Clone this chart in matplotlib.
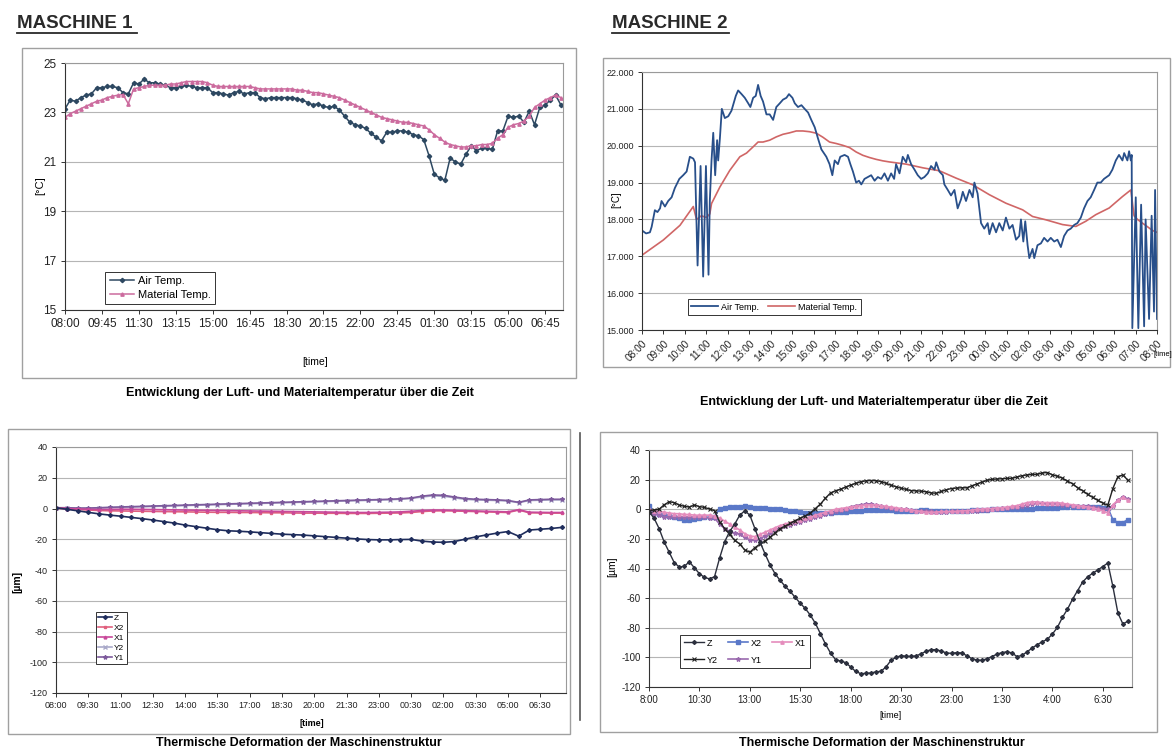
import numpy as np
import matplotlib.pyplot as plt
from matplotlib.patches import Rectangle
from matplotlib.lines import Line2D
from matplotlib.ticker import FormatStrFormatter

plt.rcParams['font.family'] = ['Liberation Sans', 'DejaVu Sans']
plt.rcParams['axes.unicode_minus'] = False

W, H = 1172, 751

# ---------------- Maschine 1: temperatures, one reading every 15 min from 08:00 ----------------
m1_ticks = ["08:00", "09:45", "11:30", "13:15", "15:00", "16:45", "18:30",
            "20:15", "22:00", "23:45", "01:30", "03:15", "05:00", "06:45"]
m1_air = [23.15, 23.5, 23.45, 23.6, 23.7, 23.75, 24.0, 24.0, 24.05, 24.05,
          24.0, 23.8, 23.75, 24.2, 24.15, 24.35, 24.2, 24.2, 24.15, 24.1,
          24.0, 24.0, 24.05, 24.1, 24.05, 24.0, 24.0, 24.0, 23.8, 23.8,
          23.75, 23.7, 23.8, 23.85, 23.75, 23.8, 23.8, 23.6, 23.55, 23.6,
          23.6, 23.6, 23.6, 23.6, 23.55, 23.5, 23.4, 23.3, 23.35, 23.25,
          23.2, 23.25, 23.1, 22.85, 22.6, 22.5, 22.45, 22.35, 22.15, 22.0,
          21.85, 22.2, 22.2, 22.25, 22.25, 22.2, 22.1, 22.05, 21.9, 21.25,
          20.5, 20.35, 20.25, 21.15, 21.0, 20.9, 21.3, 21.65, 21.45, 21.55,
          21.55, 21.5, 22.25, 22.25, 22.85, 22.8, 22.85, 22.6, 23.05, 22.5,
          23.2, 23.3, 23.5, 23.7, 23.3]
m1_mat = [22.8, 22.95, 23.05, 23.15, 23.25, 23.35, 23.45, 23.5, 23.6, 23.65,
          23.7, 23.72, 23.35, 23.95, 24.0, 24.05, 24.1, 24.1, 24.1, 24.1,
          24.15, 24.15, 24.2, 24.25, 24.25, 24.25, 24.25, 24.2, 24.1, 24.05,
          24.05, 24.05, 24.05, 24.05, 24.05, 24.05, 24.0, 23.95, 23.95, 23.95,
          23.95, 23.95, 23.95, 23.95, 23.9, 23.9, 23.85, 23.8, 23.8, 23.75,
          23.7, 23.65, 23.6, 23.5, 23.4, 23.3, 23.2, 23.1, 23.0, 22.9,
          22.8, 22.75, 22.7, 22.65, 22.6, 22.6, 22.55, 22.5, 22.45, 22.3,
          22.1, 21.95, 21.8, 21.7, 21.65, 21.6, 21.6, 21.65, 21.65, 21.7,
          21.7, 21.75, 21.95, 22.1, 22.4, 22.5, 22.55, 22.65, 22.85, 23.2,
          23.35, 23.5, 23.6, 23.7, 23.6]

# ---------------- Maschine 2: temperatures (hours after 08:00, value) ----------------
m2_ticks = ["08:00", "09:00", "10:00", "11:00", "12:00", "13:00", "14:00", "15:00",
            "16:00", "17:00", "18:00", "19:00", "20:00", "21:00", "22:00", "23:00",
            "00:00", "01:00", "02:00", "03:00", "04:00", "05:00", "06:00", "07:00", "08:00"]
m2_air_h = [0.0, 0.19, 0.37, 0.45, 0.60, 0.72, 0.84, 0.91, 1.07, 1.22,
            1.38, 1.53, 1.74, 1.92, 2.08, 2.23, 2.39, 2.47, 2.59, 2.73,
            2.85, 2.98, 3.10, 3.16, 3.24, 3.32, 3.41, 3.50, 3.55, 3.63,
            3.72, 3.86, 4.02, 4.17, 4.37, 4.48, 4.64, 4.79, 4.95, 5.05,
            5.18, 5.30, 5.41, 5.53, 5.64, 5.80, 5.95, 6.11, 6.26, 6.42,
            6.57, 6.73, 6.85, 7.01, 7.12, 7.27, 7.43, 7.58, 7.74, 7.89,
            8.05, 8.20, 8.36, 8.59, 8.74, 8.87, 8.98, 9.13, 9.24, 9.44,
            9.60, 9.71, 9.83, 9.98, 10.11, 10.22, 10.37, 10.53, 10.68, 10.84,
            10.99, 11.15, 11.30, 11.46, 11.61, 11.75, 11.84, 12.0, 12.15, 12.31,
            12.39, 12.54, 12.70, 12.85, 13.01, 13.16, 13.32, 13.47, 13.63, 13.71,
            13.86, 14.02, 14.09, 14.25, 14.40, 14.56, 14.71, 14.87, 14.95, 15.10,
            15.26, 15.41, 15.49, 15.64, 15.72, 15.80, 15.95, 16.11, 16.19, 16.34,
            16.50, 16.65, 16.81, 16.96, 17.12, 17.27, 17.43, 17.58, 17.66, 17.77,
            17.86, 17.97, 18.05, 18.20, 18.28, 18.43, 18.59, 18.74, 18.90, 19.05,
            19.21, 19.36, 19.52, 19.67, 19.83, 19.98, 20.14, 20.29, 20.45, 20.60,
            20.76, 20.91, 21.07, 21.22, 21.38, 21.53, 21.77, 21.92, 22.08, 22.23,
            22.39, 22.47, 22.62, 22.70, 22.78, 22.82, 22.85, 23.01, 23.13, 23.26,
            23.40, 23.47, 23.63, 23.75, 23.86, 23.91, 24.0]
m2_air = [17.7, 17.62, 17.65, 17.8, 18.25, 18.2, 18.3, 18.5, 18.35, 18.5,
          18.6, 18.85, 19.1, 19.2, 19.3, 19.7, 19.65, 19.55, 16.75, 19.45,
          16.45, 19.45, 16.5, 18.5, 19.6, 20.35, 19.2, 20.15, 19.6, 20.2,
          21.0, 20.75, 20.8, 20.95, 21.35, 21.5, 21.4, 21.3, 21.15, 21.05,
          21.3, 21.35, 21.65, 21.35, 21.2, 20.85, 20.85, 20.7, 21.05, 21.15,
          21.25, 21.3, 21.4, 21.3, 21.15, 21.05, 21.1, 21.0, 20.9, 20.7,
          20.5, 20.2, 19.9, 19.7, 19.5, 19.2, 19.6, 19.5, 19.7, 19.75,
          19.7, 19.5, 19.3, 19.0, 19.05, 18.95, 19.1, 19.15, 19.2, 19.05,
          19.15, 19.1, 19.25, 19.05, 19.25, 19.1, 19.5, 19.25, 19.7, 19.55,
          19.75, 19.5, 19.35, 19.2, 19.1, 19.15, 19.25, 19.45, 19.35, 19.55,
          19.3, 19.2, 18.95, 18.8, 18.65, 18.8, 18.3, 18.55, 18.75, 18.5,
          18.8, 18.6, 19.0, 18.7, 18.3, 17.9, 17.75, 17.9, 17.6, 17.9,
          17.65, 17.9, 17.7, 18.05, 17.75, 17.85, 17.45, 17.55, 18.0, 17.4,
          17.95, 17.3, 16.95, 17.2, 16.95, 17.3, 17.35, 17.5, 17.4, 17.5,
          17.4, 17.45, 17.25, 17.55, 17.7, 17.75, 17.85, 17.9, 18.05, 18.3,
          18.5, 18.6, 18.8, 19.0, 19.0, 19.1, 19.2, 19.35, 19.6, 19.75,
          19.6, 19.8, 19.6, 19.85, 19.6, 19.75, 15.05, 18.6, 15.05, 18.4,
          15.1, 18.0, 15.3, 18.1, 15.5, 18.8, 15.3]
m2_mat_h = [0.0, 0.99, 1.77, 2.39, 2.54, 2.77, 3.0, 3.16, 3.24, 3.63,
            4.09, 4.56, 4.87, 5.18, 5.41, 5.64, 5.95, 6.26, 6.57, 6.88,
            7.19, 7.5, 7.81, 8.12, 8.43, 8.74, 9.05, 9.36, 9.67, 9.98,
            10.29, 10.60, 10.91, 11.22, 11.53, 12.31, 13.09, 13.86, 14.64, 15.41,
            16.19, 16.96, 17.74, 18.2, 18.82, 19.6, 20.22, 20.68, 21.15, 21.77,
            22.39, 22.78, 22.93, 23.09, 23.32, 23.56, 23.79, 24.0]
m2_mat = [17.03, 17.44, 17.84, 18.35, 18.0, 18.1, 18.05, 18.15, 18.43, 18.88,
          19.33, 19.7, 19.8, 19.97, 20.1, 20.1, 20.15, 20.24, 20.31, 20.35,
          20.4, 20.4, 20.38, 20.34, 20.23, 20.1, 20.06, 20.01, 19.95, 19.83,
          19.74, 19.68, 19.63, 19.59, 19.56, 19.5, 19.4, 19.32, 19.12, 18.94,
          18.67, 18.44, 18.26, 18.08, 17.99, 17.86, 17.81, 17.95, 18.13, 18.31,
          18.62, 18.8, 18.1, 18.0, 17.9, 17.8, 17.7, 17.65]

# ---------------- Maschine 1: deformation, one reading every 30 min ----------------
m3_ticks = ["08:00", "09:30", "11:00", "12:30", "14:00", "15:30", "17:00", "18:30",
            "20:00", "21:30", "23:00", "00:30", "02:00", "03:30", "05:00", "06:30"]
m3_z = [0.5, -0.5, -1.5, -2.5, -3.5, -4.3, -5, -5.8, -6.6, -7.5,
        -8.5, -9.5, -10.8, -11.8, -12.8, -13.8, -14.5, -14.8, -15.2, -15.7,
        -16.2, -16.7, -17, -17.3, -17.8, -18.3, -18.8, -19.3, -19.8, -20.2,
        -20.4, -20.4, -20.2, -20.1, -21.2, -21.8, -22, -21.5, -20, -18.5,
        -17.2, -16, -15, -18, -14, -13.5, -13, -12.3]
m3_x2 = [0.3, -0.2, -0.6, -1.0, -1.3, -1.5, -1.6, -1.7, -1.8, -1.9,
         -2.0, -2.1, -2.2, -2.3, -2.4, -2.5, -2.5, -2.6, -2.6, -2.7,
         -2.8, -2.8, -2.9, -3.0, -3.0, -3.1, -3.1, -3.2, -3.2, -3.2,
         -3.1, -3.0, -2.9, -2.6, -2.0, -1.6, -1.5, -1.6, -1.8, -2.0,
         -2.2, -2.4, -2.6, -1.0, -2.8, -2.9, -3.0, -3.0]
m3_x1 = [0.3, 0.0, -0.3, -0.5, -0.7, -0.6, -0.5, -0.5, -0.6, -0.7,
         -0.8, -0.9, -1.0, -1.1, -1.2, -1.3, -1.4, -1.5, -1.6, -1.7,
         -1.8, -1.9, -2.0, -2.1, -2.2, -2.3, -2.4, -2.5, -2.6, -2.6,
         -2.5, -2.4, -2.2, -1.8, -1.3, -1.0, -1.0, -1.2, -1.4, -1.6,
         -1.8, -2.0, -2.2, -0.8, -2.4, -2.5, -2.6, -2.6]
m3_y2 = [0.3, 0.2, 0.0, 0.0, 0.2, 0.5, 0.7, 0.9, 1.1, 1.3,
         1.5, 1.7, 1.9, 2.1, 2.3, 2.5, 2.7, 2.9, 3.1, 3.3,
         3.5, 3.7, 3.9, 4.1, 4.3, 4.5, 4.7, 4.9, 5.1, 5.3,
         5.5, 5.7, 6.0, 6.5, 7.5, 8.2, 8.0, 7.0, 6.0, 5.6,
         5.4, 5.2, 4.9, 3.8, 5.2, 5.4, 5.6, 5.6]
m3_y1 = [0.5, 0.5, 0.3, 0.3, 0.5, 0.8, 1.0, 1.2, 1.4, 1.6,
         1.8, 2.0, 2.2, 2.4, 2.6, 2.8, 3.0, 3.2, 3.4, 3.6,
         3.8, 4.0, 4.2, 4.4, 4.6, 4.8, 5.0, 5.2, 5.4, 5.6,
         5.8, 6.0, 6.3, 6.8, 8.0, 8.8, 8.6, 7.5, 6.5, 6.0,
         5.8, 5.6, 5.2, 4.0, 5.6, 5.8, 6.0, 6.0]

# ---------------- Maschine 2: deformation, one reading every 15 min ----------------
m4_ticks = ["8:00", "10:30", "13:00", "15:30", "18:00", "20:30", "23:00", "1:30", "4:00", "6:30"]
m4_z = [-1.7, -6, -13, -22, -29, -36, -39, -38.5, -35.5, -39.5,
        -43.5, -46, -47, -45.5, -33, -22, -15, -10, -4, -1,
        -4, -13, -22, -30, -37.5, -43.5, -48, -52, -55.5, -59.5,
        -63.5, -67, -71.5, -77, -84, -91, -97, -101.5, -102.5, -103.5,
        -106.5, -109.5, -111, -110.8, -110.5, -109.8, -109.4, -106.5, -102, -100,
        -98.8, -99.3, -99.3, -99, -97.5, -95.8, -94.8, -94.8, -95.8, -97,
        -97.3, -96.8, -97, -98.8, -100.8, -101.8, -102, -101, -99.5, -97.8,
        -96.8, -96.2, -97, -99.5, -98.6, -96.2, -93.7, -91.4, -89.5, -87.8,
        -84.3, -79.8, -73, -67.5, -60.8, -55, -49.2, -45.6, -43.2, -41,
        -38.7, -36.3, -52, -70, -77.5, -75.5]
m4_x2 = [2.5, -2, -3, -4, -4.5, -5, -6, -7, -7.5, -6.5,
         -6, -5.5, -5.5, -5, 0.5, 1, 1.2, 1.5, 1.5, 2,
         1.5, 1, 1, 0.8, 0.5, 0.3, 0, -0.5, -1, -1.5,
         -2, -2.3, -2.5, -2.8, -2.6, -2.4, -2.2, -2, -1.8, -1.6,
         -1.4, -1.2, -1, -0.8, -0.6, -0.5, -0.5, -0.6, -0.8, -1,
         -1, -1.2, -1.2, -1, -0.8, -0.8, -1, -1.2, -1.5, -1.5,
         -1.5, -1.2, -1, -1, -0.8, -0.5, -0.5, -0.3, 0, 0,
         0.2, 0.3, 0.3, 0.5, 0.5, 0.5, 0.5, 0.8, 0.8, 1,
         1, 1, 1.2, 1.2, 1.5, 1.5, 1.5, 1.5, 1.5, 1.2,
         1, 1, -7, -9, -9, -7]
m4_x1 = [0, -1, -1.5, -2, -2.5, -3, -3, -3.5, -3.5, -4,
         -4, -4, -4, -4.5, -6, -8, -10, -12, -14, -16.5,
         -18, -18.5, -17, -15.5, -14, -12.5, -11, -10, -9, -8,
         -7, -6, -5, -4, -3, -2, -1, 0, 0.5, 1,
         1.5, 2, 2.5, 3, 3, 3, 2.5, 2, 1.5, 1,
         0.5, 0, -0.5, -1, -1.5, -2, -2, -2, -1.5, -1.5,
         -1.5, -1.5, -1, -1, -0.5, 0, 0, 0.5, 0.5, 1,
         1, 1.5, 2, 2.5, 3.5, 4.5, 5, 5, 4.5, 4.5,
         4.5, 4.5, 4, 3.5, 3, 2.5, 2, 1.5, 1, 0,
         -1, -2.5, 3, 6, 8, 6]
m4_y2 = [-1, -0.5, 0, 3, 5, 4.5, 2.8, 2, 1.5, 2.8,
         1.8, 1.2, 0.2, -1, -8.5, -13, -17, -21, -23.5, -27.5,
         -29, -26, -23.5, -21.5, -19, -16, -13, -11.5, -9.6, -7.7,
         -6, -4.5, -2.5, 0.5, 3.5, 7.5, 11, 12.5, 13.5, 15,
         16.3, 17.5, 18.5, 19.2, 19.4, 19.3, 18.7, 17.5, 16.2, 15.2,
         14.2, 13.4, 12.6, 12.4, 12.2, 11.8, 11, 10.8, 12, 13.2,
         14, 14.3, 14.5, 14.5, 15.8, 17, 18.2, 19.5, 20.2, 20.4,
         20.6, 20.8, 20.9, 21.8, 22.6, 23.2, 23.5, 23.6, 24.5, 24.8,
         23.3, 22.3, 21, 19, 17.2, 14.5, 12.6, 10, 8, 6,
         4.2, 2.7, 14, 22, 23.2, 19.5]
m4_y1 = [-2, -3, -4, -5, -5, -5, -5.5, -5.5, -5.5, -5.5,
         -5.5, -5.5, -6, -6, -10, -13, -15, -16, -17, -19,
         -20.5, -21, -20, -18, -16, -14, -12.5, -11.5, -10.5, -9.5,
         -8.5, -7.5, -6.5, -5.5, -4.5, -3.5, -2.5, -1.5, -0.5, 0.5,
         1.5, 2.5, 3, 3.5, 3.5, 3, 2, 1.5, 1, 0.5,
         0, 0, -0.5, -1, -1, -1.5, -1.5, -2, -2, -2,
         -1.5, -1.5, -1.5, -1, -1, -1, -0.5, -0.5, 0, 0.5,
         1, 1, 1.5, 1.5, 2, 3, 3.5, 4, 4, 3.5,
         3.5, 3.5, 3, 3, 2.5, 2.5, 2, 2, 1.5, 1,
         0.5, 0, 2, 6, 8.5, 7]

caption_temp = "Entwicklung der Luft- und Materialtemperatur über die Zeit"
caption_def = "Thermische Deformation der Maschinenstruktur"

fig = plt.figure(figsize=(W / 100, H / 100), dpi=100)
fig.patch.set_facecolor('white')


def box(x0, y0, x1, y1):
    # pixel box (top-left origin) -> figure fraction rect
    return [x0 / W, 1 - y1 / H, (x1 - x0) / W, (y1 - y0) / H]


def frame(x0, y0, x1, y1):
    fig.add_artist(Rectangle((x0 / W, 1 - y1 / H), (x1 - x0) / W, (y1 - y0) / H,
                             transform=fig.transFigure, fill=False, ec='#a0a0a0', lw=1.0))


def ftext(x, y, s, **kw):
    fig.text(x / W, 1 - y / H, s, **kw)


def title(x, y, s, width):
    ftext(x, y, s, fontsize=13.5, fontweight='bold', va='center', color='#2a2a2a')
    fig.add_artist(Line2D([x / W, (x + width) / W], [1 - (y + 10) / H] * 2,
                          transform=fig.transFigure, color='#2a2a2a', lw=1.3))


def style(ax, size):
    ax.grid(axis='y', color='#b5b5b5', lw=0.8)
    ax.set_axisbelow(True)
    for sp in ax.spines.values():
        sp.set_color('#9a9a9a')
        sp.set_linewidth(0.8)
    ax.spines['left'].set_color('#333')
    ax.spines['bottom'].set_color('#333')
    ax.tick_params(direction='out', length=3, width=0.7, color='#333',
                   labelcolor='#222', labelsize=size, pad=3)


def legend(ax, anchor, size, **kw):
    opts = dict(loc='lower left', bbox_to_anchor=anchor, fontsize=size,
                fancybox=False, framealpha=1, edgecolor='#333',
                borderpad=0.4, labelspacing=0.35, handletextpad=0.3)
    opts.update(kw)
    leg = ax.legend(**opts)
    leg.get_frame().set_linewidth(0.7)
    return leg


# ---------- top left ----------
title(17, 23, "MASCHINE 1", 120)
frame(22, 48, 576, 378)
ax1 = fig.add_axes(box(65, 63, 563, 310))
t1 = np.arange(len(m1_air)) * 0.25
ax1.plot(t1, m1_air, color='#2d4861', lw=1.1, marker='D', ms=2.2, label='Air Temp.')
ax1.plot(t1, m1_mat, color='#cc6b9e', lw=1.1, marker='^', ms=2.4, label='Material Temp.')
ax1.set_xlim(0, 23.6)
ax1.set_ylim(15, 25)
ax1.set_yticks([15, 17, 19, 21, 23, 25])
ax1.set_xticks(np.arange(len(m1_ticks)) * 1.75)
ax1.set_xticklabels(m1_ticks)
style(ax1, 8.5)
legend(ax1, (0.07, 0.0), 8, handlelength=2.2)
ftext(40, 186, "[°C]", rotation=90, fontsize=8, ha='center', va='center')
ftext(315, 362, "[time]", fontsize=7.5, ha='center', va='center')
ftext(300, 393, caption_temp, fontsize=9, fontweight='bold', ha='center', va='center')

# ---------- top right ----------
title(612, 23, "MASCHINE 2", 117)
frame(603, 58, 1170, 367)
ax2 = fig.add_axes(box(642, 72, 1157, 330))
ax2.plot(m2_mat_h, m2_mat, color='#d06666', lw=1.2, label='Material Temp.')
ax2.plot(m2_air_h, m2_air, color='#284f8a', lw=1.3, label='Air Temp.')
ax2.set_xlim(0, 24)
ax2.set_ylim(15, 22)
ax2.set_yticks(np.arange(15, 23))
ax2.yaxis.set_major_formatter(FormatStrFormatter('%.3f'))
ax2.set_xticks(np.arange(len(m2_ticks)))
ax2.set_xticklabels(m2_ticks, rotation=45, ha='right', rotation_mode='anchor')
style(ax2, 6.5)
ax2.tick_params(axis='x', labelsize=7.3)
h2, l2 = ax2.get_legend_handles_labels()
legend(ax2, (0.08, 0.04), 6.5, handles=h2[::-1], labels=l2[::-1], ncol=2,
       handlelength=3, columnspacing=1.0)
ftext(616, 200, "[°C]", rotation=90, fontsize=7, ha='center', va='center')
ftext(1154, 354, "[time]", fontsize=5.5, ha='left', va='center')
ftext(874, 402, caption_temp, fontsize=9, fontweight='bold', ha='center', va='center')

# ---------- bottom left ----------
frame(8, 429, 570, 734)
ax3 = fig.add_axes(box(56, 447, 566, 693))
t3 = np.arange(len(m3_z)) * 0.5
ax3.plot(t3, m3_y2, color='#a9a9c9', lw=1.2, marker='x', ms=2.5, label='Y2')
ax3.plot(t3, m3_y1, color='#7d5a9c', lw=1.2, marker='*', ms=3, label='Y1')
ax3.plot(t3, m3_x2, color='#e0607e', lw=1.2, marker='s', ms=2, label='X2')
ax3.plot(t3, m3_x1, color='#c8489a', lw=1.2, marker='^', ms=2, label='X1')
ax3.plot(t3, m3_z, color='#1f2d5c', lw=1.2, marker='D', ms=2, label='Z')
ax3.set_xlim(0, 23.7)
ax3.set_ylim(-120, 40)
ax3.set_yticks(np.arange(-120, 41, 20))
ax3.set_xticks(np.arange(len(m3_ticks)) * 1.5)
ax3.set_xticklabels(m3_ticks)
style(ax3, 6.5)
h3, l3 = ax3.get_legend_handles_labels()
order3 = [l3.index(k) for k in ["Z", "X2", "X1", "Y2", "Y1"]]
legend(ax3, (0.07, 0.1), 6, handles=[h3[i] for i in order3],
       labels=[l3[i] for i in order3], handlelength=1.6, borderpad=0.3, labelspacing=0.25)
ftext(17, 582, "[µm]", rotation=90, fontsize=7.5, fontweight='bold', ha='center', va='center')
ftext(312, 723, "[time]", fontsize=6.5, fontweight='bold', ha='center', va='center')
ftext(299, 743, caption_def, fontsize=9, fontweight='bold', ha='center', va='center')

# ---------- bottom right ----------
fig.add_artist(Line2D([580 / W] * 2, [1 - 433 / H, 1 - 720 / H],
                      transform=fig.transFigure, color='#555', lw=1.2))
frame(600, 432, 1157, 732)
ax4 = fig.add_axes(box(649, 450, 1132, 687))
t4 = np.arange(len(m4_z)) * 0.25
ax4.plot(t4, m4_x2, color='#5a78c8', lw=1.2, marker='s', ms=2.6, label='X2')
ax4.plot(t4, m4_y1, color='#9a6aae', lw=1.2, marker='*', ms=3.2, label='Y1')
ax4.plot(t4, m4_x1, color='#e58cbc', lw=1.2, marker='^', ms=2.4, label='X1')
ax4.plot(t4, m4_y2, color='#222222', lw=1.0, marker='x', ms=3, mew=0.8, label='Y2')
ax4.plot(t4, m4_z, color='#2b2f3d', lw=1.0, marker='D', ms=2, label='Z')
ax4.set_xlim(0, 23.95)
ax4.set_ylim(-120, 40)
ax4.set_yticks(np.arange(-120, 41, 20))
ax4.set_xticks(np.arange(len(m4_ticks)) * 2.5)
ax4.set_xticklabels(m4_ticks)
style(ax4, 7)
h4, l4 = ax4.get_legend_handles_labels()
order4 = [l4.index(k) for k in ["Z", "Y2", "X2", "Y1", "X1"]]
legend(ax4, (0.055, 0.06), 6.5, handles=[h4[i] for i in order4],
       labels=[l4[i] for i in order4], ncol=3, handlelength=2.2, columnspacing=1.2,
       labelspacing=0.9)
ftext(612, 567, "[µm]", rotation=90, fontsize=7.5, ha='center', va='center')
ftext(890, 716, "[time]", fontsize=6.5, ha='center', va='center')
ftext(882, 743, caption_def, fontsize=9, fontweight='bold', ha='center', va='center')

fig.savefig("out.png", dpi=100)
